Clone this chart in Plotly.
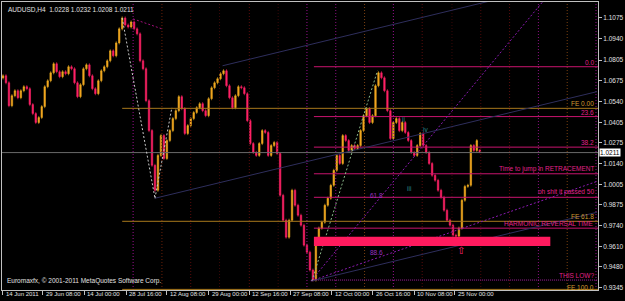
import plotly.graph_objects as go

# ---------------- data ----------------
closes = [1.0704, 1.0659, 1.0512, 1.0576, 1.0608, 1.0563, 1.0608, 1.0634, 1.0621, 1.0519,
          1.0461, 1.0404, 1.0436, 1.0506, 1.0634, 1.0672, 1.0723, 1.0781, 1.0730, 1.0698,
          1.0730, 1.0717, 1.0762, 1.0749, 1.0659, 1.0570, 1.0647, 1.0749, 1.0774, 1.0704,
          1.0621, 1.0589, 1.0672, 1.0736, 1.0762, 1.0800, 1.0864, 1.0832, 1.0915, 1.1005,
          1.1075, 1.1030, 1.1017, 1.1049, 1.1005, 1.0973, 1.0800, 1.0749, 1.0544, 1.0352,
          1.0129, 0.9969, 1.0193, 1.0320, 1.0173, 1.0288, 1.0352, 1.0429, 1.0480, 1.0570,
          1.0493, 1.0333, 1.0384, 1.0429, 1.0468, 1.0499, 1.0525, 1.0480, 1.0448, 1.0557,
          1.0627, 1.0659, 1.0685, 1.0717, 1.0736, 1.0640, 1.0563, 1.0499, 1.0576, 1.0634,
          1.0627, 1.0589, 1.0416, 1.0269, 1.0212, 1.0193, 1.0269, 1.0352, 1.0340, 1.0193,
          1.0256, 1.0276, 1.0205, 0.9937, 0.9777, 0.9668, 0.9777, 0.9969, 0.9873, 0.9809,
          0.9745, 0.9617, 0.9572, 0.9457, 0.9393, 0.9636, 0.9726, 0.9764, 0.9873, 0.9918,
          1.0001, 1.0097, 1.0193, 1.0141, 1.0320, 1.0288, 1.0225, 1.0256, 1.0237, 1.0256,
          1.0352, 1.0448, 1.0493, 1.0404, 1.0448, 1.0640, 1.0723, 1.0691, 1.0608, 1.0480,
          1.0301, 1.0404, 1.0429, 1.0352, 1.0404, 1.0340, 1.0288, 1.0212, 1.0193, 1.0256,
          1.0333, 1.0256, 1.0212, 1.0141, 1.0065, 1.0033, 0.9969, 0.9924, 0.9841, 0.9777,
          0.9745, 0.9681, 0.9675, 0.9726, 0.9905, 0.9994, 1.0001, 1.0256, 1.0225, 1.0288,
          1.0211]
first_open = 1.0690

price_ticks = [1.1075, 1.0940, 1.0805, 1.0675, 1.0540, 1.0405, 1.0275,
               1.0140, 1.0005, 0.9875, 0.9740, 0.9610, 0.9480, 0.9345]
time_tick_bars = [2, 42, 84, 126, 167, 209, 250, 291, 333, 374, 416, 457]
time_tick_labels = ["14 Jun 2011", "29 Jun 08:00", "14 Jul 00:00", "28 Jul 16:00",
                    "12 Aug 08:00", "29 Aug 00:00", "12 Sep 16:00", "27 Sep 08:00",
                    "12 Oct 00:00", "26 Oct 16:00", "10 Nov 08:00", "25 Nov 00:00"]

# fibonacci levels drawn from the swing
fib_prices = [1.0762, 1.0442, 1.0246, 1.0075, 0.9924, 0.9726]
fib_labels = ["0.0", "23.6", "38.2", "Time to jump in RETRACEMENT",
              "oh shit it passed 50", "HARMONIC REVERSAL TIME"]
fe_prices = [1.0495, 0.9770, 0.9333]
fe_labels = ["FE 0.00", "FE 61.8", "FE 100.0"]
low_price = 0.9393
zone_top, zone_bottom = 0.9671, 0.9611
last_price = 1.0211

separator_bars = [133, 162, 191, 220, 250, 279, 308, 337, 366, 395, 424, 454, 483, 512, 541, 570, 599]
separator_colors = ["#9a1090", "#6a2008", "#5a0c0c", "#3a0808", "#5a0c0c", "#3a0808",
                    "#9a1090", "#8a1080", "#7a4010", "#9a1090", "#5a0c0c", "#3a0808",
                    "#4a0a0a", "#5a0c0c", "#8a1080", "#7a4010", "#9a1090"]

pitch_lines = [((155, 0.9918), (600, 1.0602)),
               ((223, 1.0768), (600, 1.1350)),
               ((313, 0.9387), (600, 0.9828))]
purple_lines = [((312, 0.9387), (546, 1.1184)),
                ((312, 0.9387), (600, 1.0026))]
green_line = ((313, 0.9387), (379, 1.0736))
white_lines = [((122, 1.1075), (155, 0.9918)), ((155, 0.9918), (172, 1.0499))]
magenta_short = ((133, 1.1069), (162, 1.1005))

# ---------------- build ----------------
n = len(closes)
xs = [2 + 3 * i for i in range(n)]
opens = [first_open] + closes[:-1]
wick = 0.0010
highs = [max(o, c) + wick for o, c in zip(opens, closes)]
lows = [min(o, c) - wick for o, c in zip(opens, closes)]
opens[-1], highs[-1], lows[-1] = 1.0228, 1.0232, 1.0208

PX = 0.0006395
y_top = 1.1075 + 16 * PX
y_bot = 1.1075 - 273 * PX

fig = go.Figure()

for xb, col in zip(separator_bars, separator_colors):
    fig.add_trace(go.Scatter(x=[xb, xb], y=[y_bot, y_top], mode="lines",
                             line=dict(color=col, width=1, dash="1px,2px"),
                             hoverinfo="skip", showlegend=False))

fig.add_trace(go.Scatter(x=[1, 601], y=[last_price, last_price], mode="lines",
                         line=dict(color="#6a6a6a", width=1), hoverinfo="skip", showlegend=False))

for p in fe_prices:
    fig.add_trace(go.Scatter(x=[122, 601], y=[p, p], mode="lines",
                             line=dict(color="#a8781c", width=1), hoverinfo="skip", showlegend=False))
for p in fib_prices:
    fig.add_trace(go.Scatter(x=[315, 601], y=[p, p], mode="lines",
                             line=dict(color="#c8146e", width=1), hoverinfo="skip", showlegend=False))
fig.add_trace(go.Scatter(x=[313, 601], y=[low_price, low_price], mode="lines",
                         line=dict(color="#a0209a", width=1, dash="1px,1px"),
                         hoverinfo="skip", showlegend=False))

def seg(a, b, color, dash=None):
    fig.add_trace(go.Scatter(x=[a[0], b[0]], y=[a[1], b[1]], mode="lines",
                             line=dict(color=color, width=1, dash=dash),
                             hoverinfo="skip", showlegend=False))

for a, b in pitch_lines:
    seg(a, b, "#2e2e5c")
for a, b in purple_lines:
    seg(a, b, "#8a1ab0", "2px,2px")
seg(*green_line, "#8ab88a", "2px,2px")
for a, b in white_lines:
    seg(a, b, "#c8c8c8", "2px,2px")
seg(*magenta_short, "#a0107a", "2px,2px")

fig.add_trace(go.Candlestick(
    x=xs, open=opens, high=highs, low=lows, close=closes,
    increasing=dict(line=dict(color="#f0b020", width=0.6), fillcolor="#f5a020"),
    decreasing=dict(line=dict(color="#ff2266", width=0.6), fillcolor="#ff2266"),
    whiskerwidth=0, showlegend=False, hoverinfo="skip"))

shapes = [dict(type="rect", xref="x", yref="y", x0=315, x1=553, y0=zone_bottom, y1=zone_top,
               fillcolor="#ff1a5e", line=dict(width=0), layer="above")]

ann = []
small = dict(family="Liberation Sans, Arial, sans-serif", size=6.5)
tick_font = dict(family="Liberation Sans, Arial, sans-serif", size=6)
for p, t in zip(fib_prices, fib_labels):
    ann.append(dict(x=599, y=p, xref="x", yref="y", text=t, showarrow=False,
                    xanchor="right", yanchor="bottom", yshift=-1,
                    font=dict(small, color="#e0208a")))
for p, t in zip(fe_prices[:2], fe_labels[:2]):
    ann.append(dict(x=599, y=p, xref="x", yref="y", text=t, showarrow=False,
                    xanchor="right", yanchor="bottom", yshift=-1,
                    font=dict(small, color="#d09a30")))
ann.append(dict(x=599, y=fe_prices[2], xref="x", yref="y", text=fe_labels[2], showarrow=False,
                xanchor="right", yanchor="middle", yshift=2,
                font=dict(small, color="#d09a30")))
ann.append(dict(x=599, y=low_price, xref="x", yref="y", text="THIS LOW?", showarrow=False,
                xanchor="right", yanchor="bottom", yshift=-1, font=dict(small, color="#e0208a")))
for x, p, t, c in [(378, 0.9937, "61.8", "#9a30c0"), (378, 0.9572, "88.6", "#9a30c0"),
                   (411, 0.9981, "iii", "#2a8a8a"), (427, 1.0359, "iv", "#2a8a8a"),
                   (405, 1.0423, "ii", "#2a8a8a")]:
    ann.append(dict(x=x, y=p, xref="x", yref="y", text=t, showarrow=False,
                    font=dict(small, color=c)))
ann.append(dict(x=463, y=0.9585, xref="x", yref="y", text="⇧", showarrow=False,
                font=dict(family="DejaVu Sans", size=10, color="#ff2070")))
ann.append(dict(x=5, y=1, xref="x", yref="paper", text="AUDUSD,H4  1.0228 1.0232 1.0208 1.0211",
                showarrow=False, xanchor="left", yanchor="top", yshift=-2,
                font=dict(small, color="#e0e0e0")))
ann.append(dict(x=4, y=0, xref="x", yref="paper",
                text="Euromaxfx, © 2001-2011 MetaQuotes Software Corp.",
                showarrow=False, xanchor="left", yanchor="bottom", yshift=3,
                font=dict(small, color="#e0e0e0")))
for xb, t in zip(time_tick_bars, time_tick_labels):
    ann.append(dict(x=xb, y=0, xref="x", yref="paper", text=t, showarrow=False,
                    xanchor="left", yanchor="top", yshift=1, xshift=1,
                    font=dict(tick_font, color="#e0e0e0")))
ann.append(dict(x=1, y=last_price, xref="paper", yref="y", text="1.0211", showarrow=False,
                xanchor="left", yanchor="middle", xshift=1, bgcolor="#ffffff",
                borderpad=0, font=dict(small, color="#000000")))

fig.update_layout(
    width=625, height=301,
    margin=dict(l=1, r=24, t=1, b=11),
    paper_bgcolor="#000000", plot_bgcolor="#000000",
    shapes=shapes, annotations=ann,
    xaxis=dict(range=[1, 601], showgrid=False, zeroline=False, rangeslider=dict(visible=False),
               tickvals=time_tick_bars, showticklabels=False, ticks="outside", ticklen=4,
               tickcolor="#c0c0c0", showline=True, linecolor="#c0c0c0", mirror=True),
    yaxis=dict(range=[y_bot, y_top], side="right", showgrid=False, zeroline=False,
               tickvals=price_ticks, ticktext=[f"{v:.4f}" for v in price_ticks],
               ticks="outside", ticklen=3, tickcolor="#c0c0c0",
               tickfont=dict(small, color="#e0e0e0"),
               showline=True, linecolor="#c0c0c0", mirror=True),
)

fig.write_html("out.html")
